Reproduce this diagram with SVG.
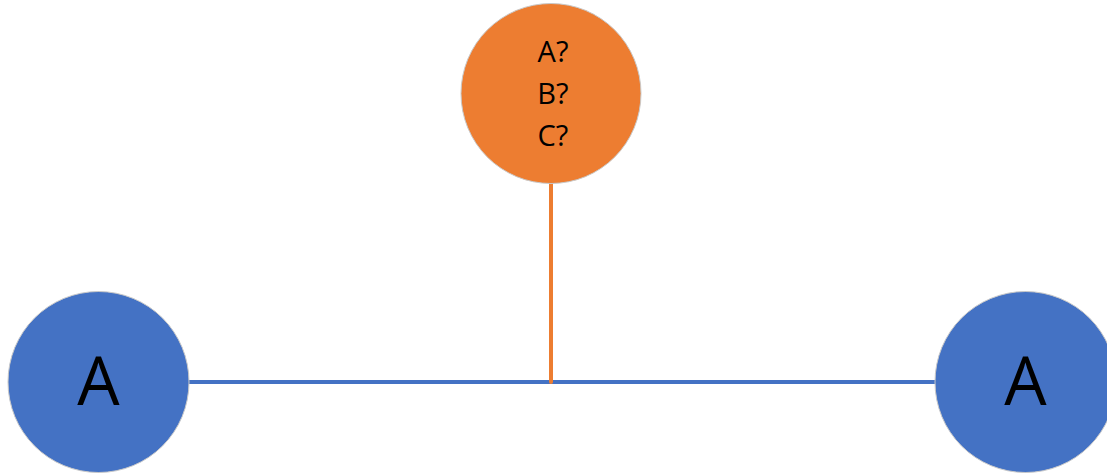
<svg xmlns="http://www.w3.org/2000/svg" width="1107" height="474" viewBox="0 0 1107 474">
<style>
.blue{fill:#4472C4;stroke:#c9c9c9;stroke-width:1}
.orange{fill:#ED7D31;stroke:#c9c9c9;stroke-width:1}
.big{font-family:"Open Sans","Liberation Sans",sans-serif;font-size:67px;fill:#000;text-anchor:middle}
.small{font-family:"Open Sans","Liberation Sans",sans-serif;font-size:29px;fill:#000;text-anchor:middle}
</style>
<rect width="1107" height="474" fill="#fff"/>
<g id="connectors">
<line x1="188" y1="382" x2="936" y2="382" stroke="#4472C4" stroke-width="4"/>
<line x1="551" y1="183" x2="551" y2="382" stroke="#ED7D31" stroke-width="4" stroke-linecap="round"/>
</g>
<g id="node-left">
<circle class="blue" cx="98.5" cy="382" r="90.5"/>
<text class="big" x="98.5" y="405">A</text>
</g>
<g id="node-right">
<circle class="blue" cx="1025.5" cy="382" r="90.5"/>
<text class="big" x="1025.5" y="405">A</text>
</g>
<g id="node-top">
<circle class="orange" cx="551" cy="93.5" r="90"/>
<text class="small" x="553" y="62.3">A?</text>
<text class="small" x="553" y="104">B?</text>
<text class="small" x="553" y="146">C?</text>
</g>
</svg>
